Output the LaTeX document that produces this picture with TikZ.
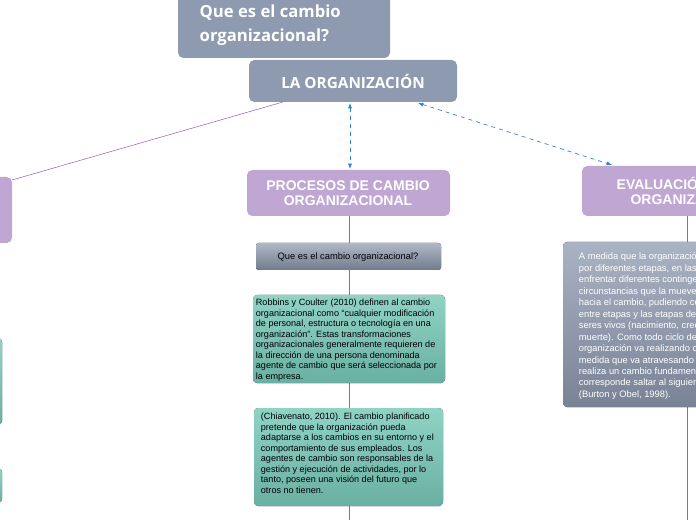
\documentclass[tikz,border=0pt]{standalone}
\usepackage{fontspec}
\setmainfont{Liberation Sans}
\newfontfamily\headfont{Open Sans}
\usetikzlibrary{arrows.meta}
\definecolor{grayblue}{HTML}{8E9AB0}
\definecolor{lilac}{HTML}{C0A6D2}
\definecolor{teal1}{HTML}{8FD3C4}
\definecolor{teal2}{HTML}{6AB0A2}
\definecolor{linkblue}{HTML}{2F7FD0}
\definecolor{branchcol}{HTML}{9A5FB8}
\begin{document}
\begin{tikzpicture}[x=0.75pt,y=-0.75pt,
  headbox/.style={text=white, font=\bfseries\fontsize{10.5}{11.5}\selectfont, align=center},
  note/.style={font=\fontsize{6.8}{7.9}\selectfont, align=left},
  branch/.style={draw=branchcol, line width=0.6pt},
  link/.style={draw=linkblue, dashed, {Latex[length=4pt]}-{Latex[length=4pt]}, line width=0.5pt}]
\useasboundingbox (0,0) rectangle (696,520);
\begin{scope}
\clip (0,0) rectangle (696,520);
% lines first
\draw[branch, line width=0.4pt] (283,102) -- (12,180);
\draw[branch] (349,216) -- (349,520);
\draw[branch] (687,216) -- (687,520);
% title
\fill[grayblue, rounded corners=4pt] (178,-10) rectangle (390,58);
\node[anchor=west, text=white, font=\headfont\bfseries\fontsize{12.5}{18}\selectfont, align=left] (title) at (195,25) {Que es el cambio\\organizacional?};
\fill[grayblue, rounded corners=4pt] (249,60) rectangle (457,102);
\node[text=white, font=\headfont\bfseries\fontsize{11.5}{13}\selectfont] (org) at (353,81) {LA ORGANIZACIÓN};
% left branch
\fill[lilac, rounded corners=4pt] (-20,177) rectangle (12,243);
\fill[top color=teal1, bottom color=teal2, rounded corners=3pt] (-20,338) rectangle (2,425);
\fill[top color=teal1, bottom color=teal2, rounded corners=3pt] (-20,468) rectangle (2,503);
% middle branch
\fill[lilac, rounded corners=4pt] (247,170) rectangle (450,216);
\node[headbox] (proc) at (348,193) {PROCESOS DE CAMBIO\\ORGANIZACIONAL};
\fill[top color=grayblue!70!white, bottom color=grayblue!80!black, rounded corners=2pt] (256,243) rectangle (441,270);
\node[font=\fontsize{7}{8}\selectfont] (que) at (348,257) {Que es el cambio organizacional?};
\fill[top color=teal1, bottom color=teal2, rounded corners=3pt] (253,295) rectangle (445,383);
\node[note, anchor=north west, inner sep=2pt] (robbins) at (253,296) {Robbins y Coulter (2010) definen al cambio\\organizacional como “cualquier modificación\\de personal, estructura o tecnología en una\\organización”. Estas transformaciones\\organizacionales generalmente requieren de\\la dirección de una persona denominada\\agente de cambio que será seleccionada por\\la empresa.};
\fill[top color=teal1, bottom color=teal2, rounded corners=3pt] (254,408) rectangle (443,506);
\node[note, anchor=north west, inner sep=2pt] (chiav) at (258,410) {(Chiavenato, 2010). El cambio planificado\\pretende que la organización pueda\\adaptarse a los cambios en su entorno y el\\comportamiento de sus empleados. Los\\agentes de cambio son responsables de la\\gestión y ejecución de actividades, por lo\\tanto, poseen una visión del futuro que\\otros no tienen.};
% right branch
\fill[lilac, rounded corners=4pt] (582,166) rectangle (720,216);
\node[headbox, anchor=west] (eval) at (612,191) {EVALUACIÓN DE LA\\ORGANIZACIÓN};
\fill[top color=grayblue!75!white, bottom color=grayblue!85!black, rounded corners=3pt] (563,242) rectangle (720,407);
\node[note, anchor=north west, text=white, font=\fontsize{7}{8.6}\selectfont, inner sep=2pt] (medida) at (576,250) {A medida que la organización pasa\\por diferentes etapas, en las que debe\\enfrentar diferentes contingencias y\\circunstancias que la mueven\\hacia el cambio, pudiendo compararse\\entre etapas y las etapas de los\\seres vivos (nacimiento, crecimiento,\\muerte). Como todo ciclo de vida, la\\organización va realizando cambios a\\medida que va atravesando etapas,\\realiza un cambio fundamental que le\\corresponde saltar al siguiente nivel\\(Burton y Obel, 1998).};
% links
\draw[link] (350,103) -- (350,169);
\draw[link] (418,103) -- (612,165);
\end{scope}
\end{tikzpicture}
\end{document}
